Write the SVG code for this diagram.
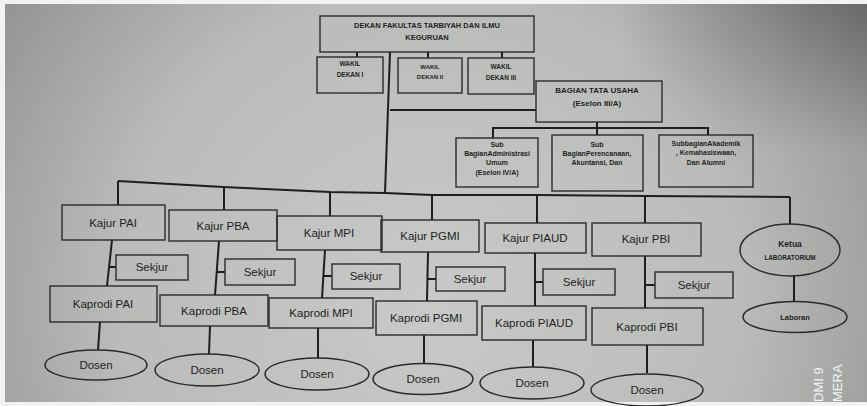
<svg xmlns="http://www.w3.org/2000/svg" width="867" height="406" viewBox="0 0 867 406">
<defs>
<radialGradient id="bg" cx="430" cy="300" r="620" gradientUnits="userSpaceOnUse">
<stop offset="0" stop-color="#c9cac7"/>
<stop offset="0.5" stop-color="#babcb9"/>
<stop offset="1" stop-color="#7f8280"/>
</radialGradient>
<linearGradient id="tr" x1="620" y1="0" x2="867" y2="0" gradientUnits="userSpaceOnUse">
<stop offset="0" stop-color="#4a4e4c" stop-opacity="0"/>
<stop offset="1" stop-color="#4a4e4c" stop-opacity="0.6"/>
</linearGradient>
<linearGradient id="trv" x1="0" y1="0" x2="0" y2="150" gradientUnits="userSpaceOnUse">
<stop offset="0" stop-color="#fff" stop-opacity="1"/>
<stop offset="1" stop-color="#fff" stop-opacity="0"/>
</linearGradient>
<mask id="m"><rect x="0" y="0" width="867" height="150" fill="url(#trv)"/></mask>
</defs>
<style>
.b{fill:none;stroke:#2a2a2a;stroke-width:1.4}
.c{fill:none;stroke:#1e1e1e;stroke-width:2}
.t{font-family:"Liberation Sans",Arial,sans-serif;font-size:11.5px;fill:#232323;text-anchor:middle}
.s{font-family:"Liberation Sans",Arial,sans-serif;font-weight:bold;font-size:7px;fill:#1f1f1f;text-anchor:middle}
.w{font-family:"Liberation Sans",Arial,sans-serif;font-size:13px;fill:#f4f4f4}
</style>
<rect width="867" height="406" fill="#f2f2f0"/>
<rect x="5" y="4" width="862" height="398" fill="url(#bg)"/>
<rect x="5" y="4" width="862" height="398" fill="url(#tr)" mask="url(#m)"/>

<g id="connectors">
<polyline class="c" points="118,181 223,187 330,192 385,193 432,195 537,195 645,196 790,197"/>
<line class="c" x1="390" y1="52" x2="385" y2="193"/>
<line class="c" x1="357" y1="52" x2="357" y2="57"/>
<line class="c" x1="428" y1="52" x2="428" y2="58"/>
<line class="c" x1="502" y1="52" x2="502" y2="58"/>
<line class="c" x1="390" y1="110" x2="536" y2="110"/>
<line class="c" x1="597" y1="122" x2="597" y2="128"/>
<polyline class="c" points="493,138 493,128 708,128 708,135"/>
<line class="c" x1="597" y1="128" x2="597" y2="135"/>
<line class="c" x1="118" y1="181" x2="118" y2="205"/>
<line class="c" x1="224" y1="187" x2="224" y2="210"/>
<line class="c" x1="330" y1="192" x2="330" y2="216"/>
<line class="c" x1="432" y1="195" x2="432" y2="220"/>
<line class="c" x1="537" y1="195" x2="537" y2="223"/>
<line class="c" x1="645" y1="196" x2="645" y2="223"/>
<line class="c" x1="790" y1="197" x2="790" y2="224"/>
<line class="c" x1="112" y1="240" x2="107" y2="286"/>
<line class="c" x1="110" y1="267" x2="116" y2="267"/>
<line class="c" x1="219" y1="241" x2="215" y2="295"/>
<line class="c" x1="217" y1="272" x2="225" y2="272"/>
<line class="c" x1="325" y1="250" x2="322" y2="298"/>
<line class="c" x1="324" y1="276" x2="332" y2="276"/>
<line class="c" x1="428" y1="252" x2="427" y2="301"/>
<line class="c" x1="428" y1="279" x2="436" y2="279"/>
<line class="c" x1="535" y1="253" x2="535" y2="306"/>
<line class="c" x1="535" y1="282" x2="543" y2="282"/>
<line class="c" x1="645" y1="256" x2="645" y2="308"/>
<line class="c" x1="645" y1="285" x2="655" y2="285"/>
<line class="c" x1="100" y1="322" x2="98" y2="350"/>
<line class="c" x1="210" y1="326" x2="209" y2="354"/>
<line class="c" x1="318" y1="328" x2="318" y2="358"/>
<line class="c" x1="424" y1="335" x2="424" y2="363.5"/>
<line class="c" x1="533" y1="340" x2="533" y2="367"/>
<line class="c" x1="647" y1="345" x2="647" y2="373"/>
<line class="c" x1="794" y1="276" x2="794" y2="301"/>
</g>

<g id="dekan"><rect class="b" x="320" y="16" width="214" height="36" fill="none"/>
<text class="s" x="427" y="28" style="font-size:7.5px">DEKAN FAKULTAS TARBIYAH DAN ILMU</text>
<text class="s" x="427" y="40" style="font-size:7.5px">KEGURUAN</text></g>
<g id="wakil1"><rect class="b" x="317" y="57" width="66" height="36" fill="none"/>
<text class="s" x="350" y="66" style="font-size:6.5px">WAKIL</text><text class="s" x="350" y="77" style="font-size:6.5px">DEKAN I</text></g>
<g id="wakil2"><rect class="b" x="398" y="58" width="64" height="35" fill="none"/>
<text class="s" x="430" y="69" style="font-size:6px">WAKIL</text><text class="s" x="430" y="79" style="font-size:6px">DEKAN II</text></g>
<g id="wakil3"><rect class="b" x="468" y="58" width="66" height="36" fill="none"/>
<text class="s" x="501" y="69" style="font-size:6.5px">WAKIL</text><text class="s" x="501" y="80" style="font-size:6.5px">DEKAN III</text></g>
<g id="tu"><rect class="b" x="536" y="81" width="126" height="41" fill="none"/>
<text class="s" x="597" y="93" style="font-size:8px">BAGIAN TATA USAHA</text>
<text class="s" x="597" y="106" style="font-size:8px">(Eselon III/A)</text></g>
<g id="sub1"><rect class="b" x="456" y="138" width="82" height="49" fill="none"/>
<text class="s" x="497" y="147">Sub</text><text class="s" x="497" y="156">BagianAdministrasi</text>
<text class="s" x="497" y="165">Umum</text><text class="s" x="497" y="175">(Eselon IV/A)</text></g>
<g id="sub2"><rect class="b" x="552" y="135" width="91" height="56" fill="none"/>
<text class="s" x="597" y="147">Sub</text><text class="s" x="597" y="155.5">BagianPerencanaan,</text>
<text class="s" x="597" y="164.5">Akuntansi, Dan</text></g>
<g id="sub3"><rect class="b" x="659" y="135" width="94" height="52" fill="none"/>
<text class="s" x="706" y="145.5">SubbagianAkademik</text><text class="s" x="706" y="155">, Kemahasiswaan,</text>
<text class="s" x="706" y="164.5">Dan Alumni</text></g>

<g id="kajur-pai"><rect class="b" x="62" y="205" width="103" height="35" fill="none"/><text class="t" x="113" y="227">Kajur PAI</text></g>
<g id="kajur-pba"><rect class="b" x="169" y="210" width="108" height="31" fill="none"/><text class="t" x="223" y="230">Kajur PBA</text></g>
<g id="kajur-mpi"><rect class="b" x="277" y="216" width="105" height="34" fill="none"/><text class="t" x="329" y="237">Kajur MPI</text></g>
<g id="kajur-pgmi"><rect class="b" x="381" y="220" width="98" height="32" fill="none"/><text class="t" x="430" y="240">Kajur PGMI</text></g>
<g id="kajur-piaud"><rect class="b" x="485" y="223" width="101" height="30" fill="none"/><text class="t" x="535" y="242">Kajur PIAUD</text></g>
<g id="kajur-pbi"><rect class="b" x="592" y="223" width="109" height="33" fill="none"/><text class="t" x="646" y="243">Kajur PBI</text></g>

<g id="sekjur-pai"><rect class="b" x="116" y="255" width="72" height="25" fill="none"/><text class="t" x="152" y="271">Sekjur</text></g>
<g id="sekjur-pba"><rect class="b" x="225" y="259" width="70" height="26" fill="none"/><text class="t" x="260" y="276">Sekjur</text></g>
<g id="sekjur-mpi"><rect class="b" x="332" y="264" width="68" height="25" fill="none"/><text class="t" x="366" y="280">Sekjur</text></g>
<g id="sekjur-pgmi"><rect class="b" x="436" y="267" width="69" height="24" fill="none"/><text class="t" x="470" y="283">Sekjur</text></g>
<g id="sekjur-piaud"><rect class="b" x="543" y="269" width="72" height="26" fill="none"/><text class="t" x="579" y="286">Sekjur</text></g>
<g id="sekjur-pbi"><rect class="b" x="655" y="272" width="78" height="26" fill="none"/><text class="t" x="694" y="289">Sekjur</text></g>

<g id="kaprodi-pai"><rect class="b" x="50" y="286" width="107" height="36" fill="none"/><text class="t" x="103" y="308">Kaprodi PAI</text></g>
<g id="kaprodi-pba"><rect class="b" x="160" y="295" width="108" height="31" fill="none"/><text class="t" x="214" y="315">Kaprodi PBA</text></g>
<g id="kaprodi-mpi"><rect class="b" x="269" y="298" width="104" height="30" fill="none"/><text class="t" x="321" y="317">Kaprodi MPI</text></g>
<g id="kaprodi-pgmi"><rect class="b" x="376" y="301" width="101" height="34" fill="none"/><text class="t" x="426" y="322">Kaprodi PGMI</text></g>
<g id="kaprodi-piaud"><rect class="b" x="482" y="306" width="104" height="34" fill="none"/><text class="t" x="534" y="327">Kaprodi PIAUD</text></g>
<g id="kaprodi-pbi"><rect class="b" x="592" y="308" width="111" height="37" fill="none"/><text class="t" x="647" y="331">Kaprodi PBI</text></g>

<g id="dosen-pai"><ellipse class="b" cx="96" cy="365" rx="51" ry="15" fill="none"/><text class="t" x="96" y="369">Dosen</text></g>
<g id="dosen-pba"><ellipse class="b" cx="207" cy="370" rx="52" ry="16" fill="none"/><text class="t" x="207" y="374">Dosen</text></g>
<g id="dosen-mpi"><ellipse class="b" cx="317" cy="374" rx="52" ry="16" fill="none"/><text class="t" x="317" y="378">Dosen</text></g>
<g id="dosen-pgmi"><ellipse class="b" cx="423" cy="379" rx="50" ry="15.5" fill="none"/><text class="t" x="423" y="383">Dosen</text></g>
<g id="dosen-piaud"><ellipse class="b" cx="532" cy="383" rx="52" ry="16" fill="none"/><text class="t" x="532" y="387">Dosen</text></g>
<g id="dosen-pbi"><ellipse class="b" cx="647" cy="390" rx="56" ry="16" fill="none"/><text class="t" x="647" y="394">Dosen</text></g>

<g id="ketua-lab"><ellipse class="b" cx="790" cy="250" rx="50" ry="26" fill="none"/>
<text class="s" x="790" y="247" style="font-size:8.5px">Ketua</text>
<text class="s" x="790" y="259.5" style="font-size:6.3px">LABORATORIUM</text></g>
<g id="laboran"><ellipse class="b" cx="795" cy="317" rx="52" ry="15.5" fill="none"/>
<text class="s" x="795" y="319.5" style="font-size:7.5px">Laboran</text></g>

<text class="w" transform="translate(823,402) rotate(-90)">DMI 9</text>
<text class="w" transform="translate(842,402) rotate(-90)">MERA</text>
</svg>
